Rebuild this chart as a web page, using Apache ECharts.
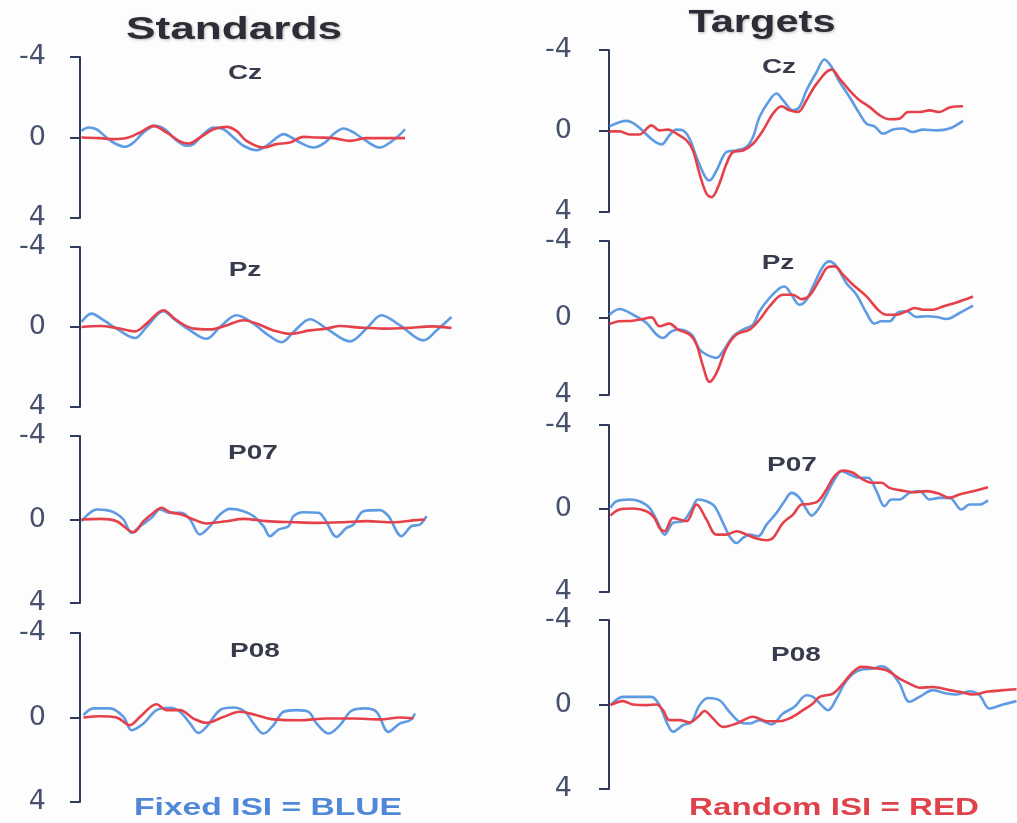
<!DOCTYPE html>
<html>
<head>
<meta charset="utf-8">
<style>
  html, body { margin: 0; padding: 0; background: #fdfdfd; }
  #chart { width: 1017px; height: 823px; }
</style>
<script src="https://cdn.jsdelivr.net/npm/echarts@6/dist/echarts.min.js"></script>
</head>
<body>
<div id="chart"></div>
<script>
// ERP grand averages, amplitude in µV (negative plotted upward), time in ms.
const yTicks = [-4, 0, 4];
const columns = ['Standards', 'Targets'];
const channels = ['Cz', 'Pz', 'P07', 'P08'];
const legendFixed = 'Fixed ISI = BLUE';
const legendRandom = 'Random ISI = RED';

// Standards, Fixed ISI
const czStdFixed = [[3,-0.33],[17,-0.5],[33,-0.41],[53,0],[70,0.3],[90,0.46],[107,0.25],[127,-0.25],[150,-0.58],[170,-0.41],[190,0.08],[213,0.41],[227,0.33],[247,-0.17],[267,-0.5],[287,-0.41],[307,0],[327,0.41],[353,0.63],[373,0.41],[390,0.08],[407,-0.17],[423,0],[440,0.25],[467,0.5],[490,0.25],[507,-0.17],[527,-0.45],[547,-0.25],[567,0.08],[600,0.5],[620,0.25],[637,-0.08],[650,-0.41]];
const pzStdFixed = [[3,-0.25],[23,-0.67],[47,-0.34],[73,0.08],[110,0.55],[133,0],[167,-0.79],[187,-0.42],[220,0.17],[253,0.59],[280,0],[313,-0.59],[347,-0.17],[373,0.34],[403,0.76],[430,0.17],[460,-0.39],[493,0.08],[540,0.72],[573,0.08],[603,-0.59],[640,-0.08],[687,0.67],[713,0.17],[743,-0.5]];
const p07StdFixed = [[3,0.08],[20,-0.32],[33,-0.48],[53,-0.45],[70,-0.32],[87,0],[103,0.64],[120,0.32],[143,-0.08],[160,-0.48],[180,-0.32],[203,-0.32],[220,0],[240,0.72],[257,0.4],[280,-0.24],[300,-0.51],[327,-0.4],[347,-0.16],[367,0.32],[380,0.8],[397,0.48],[417,0.32],[427,-0.16],[447,-0.35],[477,-0.32],[490,0],[513,0.83],[533,0.4],[547,0.24],[567,-0.4],[600,-0.45],[617,-0.16],[643,0.8],[663,0.32],[680,0.24],[693,-0.16]];
const p08StdFixed = [[7,-0.11],[27,-0.43],[60,-0.43],[87,-0.03],[103,0.6],[127,0.28],[153,-0.35],[180,-0.46],[200,-0.27],[220,0.28],[237,0.73],[253,0.44],[280,-0.35],[307,-0.47],[330,-0.27],[347,0.28],[367,0.76],[387,0.36],[407,-0.27],[433,-0.35],[457,-0.27],[473,0.28],[497,0.76],[520,0.36],[543,-0.32],[570,-0.43],[593,-0.27],[617,0.68],[640,0.28],[660,0.13],[670,-0.19]];

// Standards, Random ISI
const czStdRandom = [[3,0],[40,0.03],[67,0.08],[93,0.03],[120,-0.25],[147,-0.58],[173,-0.25],[200,0.2],[217,0.3],[240,0],[267,-0.41],[293,-0.53],[313,-0.33],[333,0.17],[367,0.5],[393,0.33],[420,0.25],[447,-0.03],[473,0],[507,0.03],[540,0.17],[573,0.03],[607,0.03],[650,0.03]];
const pzStdRandom = [[3,0],[40,-0.05],[73,0.05],[110,0.22],[133,-0.17],[167,-0.84],[193,-0.34],[227,0.08],[260,0.12],[293,-0.08],[327,-0.34],[353,-0.17],[387,0.17],[420,0.34],[460,0.17],[493,0.08],[520,-0.05],[560,0.03],[607,0.08],[653,0.05],[707,-0.03],[743,0.05]];
const p07StdRandom = [[3,0],[40,-0.03],[73,0.08],[107,0.61],[127,0.08],[147,-0.32],[163,-0.56],[180,-0.35],[203,-0.24],[227,0],[253,0.19],[293,0.08],[327,-0.03],[373,0.08],[427,0.13],[473,0.16],[527,0.13],[573,0.08],[627,0.13],[673,0.03],[690,0]];
const p08StdRandom = [[7,0],[40,-0.06],[73,0],[100,0.36],[120,-0.03],[153,-0.63],[173,-0.35],[200,-0.35],[227,0.05],[253,0.25],[287,-0.03],[320,-0.27],[353,-0.11],[387,0.09],[440,0.13],[493,0.05],[547,0.05],[600,0.09],[640,0],[667,0.05]];

// Targets, Fixed ISI
const czTgtFixed = [[1,-0.23],[35,-0.5],[55,-0.28],[88,0.46],[105,0.66],[121,0.21],[135,-0.07],[148,-0.03],[161,0.38],[175,1.29],[191,2.2],[201,2.44],[215,1.95],[235,1.04],[255,0.96],[275,0.79],[288,0.3],[301,-0.69],[321,-1.52],[335,-1.85],[348,-1.52],[368,-1.02],[381,-1.19],[395,-2.01],[415,-2.9],[431,-3.53],[445,-3.17],[461,-2.43],[481,-1.68],[501,-0.86],[515,-0.36],[531,-0.23],[548,0.13],[568,-0.07],[588,-0.12],[608,0.05],[628,-0.07],[655,-0.03],[681,-0.12],[708,-0.5]];
const pzTgtFixed = [[1,-0.17],[21,-0.47],[48,-0.17],[75,0.26],[95,0.86],[108,1.04],[125,0.69],[141,0.6],[155,0.69],[168,0.95],[181,1.64],[195,1.9],[215,2.07],[228,1.73],[248,0.95],[268,0.6],[288,0.35],[301,-0.35],[321,-1.04],[341,-1.55],[351,-1.64],[365,-1.21],[381,-0.69],[395,-0.95],[408,-1.64],[428,-2.68],[441,-2.94],[455,-2.68],[475,-1.81],[495,-1.21],[515,-0.26],[531,0.29],[545,0.17],[561,0.17],[578,-0.29],[595,-0.35],[615,-0.05],[635,-0.09],[655,-0.05],[675,0.05],[701,-0.26],[728,-0.64]];
const p07TgtFixed = [[3,-0.03],[15,-0.35],[41,-0.43],[61,-0.35],[81,-0.03],[98,0.69],[111,1.25],[128,0.69],[148,0.61],[165,0.05],[178,-0.43],[195,-0.35],[211,-0.11],[228,0.69],[241,1.33],[255,1.65],[268,1.41],[281,1.25],[298,1.33],[315,0.77],[335,0.21],[351,-0.35],[365,-0.75],[381,-0.51],[395,0.05],[405,0.34],[418,0.05],[435,-0.67],[451,-1.39],[465,-1.79],[481,-1.63],[501,-1.47],[518,-1.47],[535,-0.83],[551,-0.11],[565,-0.43],[581,-0.43],[601,-0.75],[621,-0.83],[641,-0.43],[661,-0.51],[681,-0.51],[705,0.05],[721,-0.19],[741,-0.19],[758,-0.4]];
const p08TgtFixed = [[3,0.03],[28,-0.36],[61,-0.36],[85,-0.36],[101,0.03],[115,0.82],[128,1.29],[148,0.98],[165,0.82],[181,0.03],[198,-0.31],[221,-0.2],[241,0.35],[261,0.82],[281,0.9],[301,0.74],[325,0.94],[348,0.43],[371,0.11],[395,-0.44],[408,-0.36],[425,0.03],[438,0.27],[455,-0.28],[471,-0.99],[488,-1.46],[508,-1.67],[528,-1.7],[545,-1.81],[561,-1.62],[581,-0.99],[601,-0.13],[621,-0.36],[648,-0.68],[675,-0.52],[695,-0.47],[721,-0.63],[741,-0.44],[761,0.19],[788,0],[815,-0.16]];

// Targets, Random ISI
const czTgtRandom = [[1,0.02],[21,0.02],[41,0.17],[61,0.17],[85,-0.28],[101,-0.03],[118,-0.07],[135,0.13],[155,0.46],[168,0.96],[181,2.11],[195,3.1],[205,3.27],[218,2.77],[235,1.62],[248,1.04],[268,0.96],[288,0.63],[308,-0.03],[328,-0.86],[345,-1.22],[361,-1.02],[378,-0.94],[395,-1.52],[415,-2.33],[445,-3.04],[461,-2.59],[481,-2.01],[501,-1.52],[521,-1.19],[541,-0.78],[561,-0.58],[581,-0.61],[598,-0.94],[621,-0.94],[641,-1.02],[661,-0.94],[681,-1.16],[708,-1.22]];
const pzTgtRandom = [[1,0.31],[21,0.17],[48,0.14],[68,0.05],[85,-0.03],[101,0.43],[121,0.29],[138,0.6],[161,0.86],[175,1.38],[188,2.5],[201,3.32],[215,2.85],[235,1.55],[255,0.86],[281,0.6],[301,0.09],[321,-0.6],[348,-1.21],[368,-1.21],[385,-0.98],[401,-1.16],[421,-1.99],[438,-2.64],[451,-2.68],[468,-2.25],[488,-1.73],[515,-1.12],[538,-0.43],[555,-0.17],[575,-0.17],[595,-0.35],[611,-0.52],[628,-0.43],[648,-0.43],[668,-0.6],[695,-0.81],[728,-1.12]];
const p07TgtRandom = [[3,0.34],[21,0.05],[48,0],[75,0.13],[91,0.45],[101,0.93],[111,1.09],[128,0.45],[141,0.53],[155,0.61],[175,-0.19],[195,0.53],[215,1.25],[235,1.25],[255,1.09],[275,1.25],[295,1.44],[315,1.52],[328,1.41],[348,0.69],[368,0.29],[385,-0.19],[401,-0.22],[418,-0.35],[435,-0.91],[451,-1.55],[468,-1.82],[488,-1.71],[508,-1.39],[528,-1.23],[545,-1.23],[561,-0.99],[581,-0.88],[608,-0.78],[635,-0.83],[661,-0.7],[681,-0.51],[701,-0.67],[728,-0.83],[758,-1.02]];
const p08TgtRandom = [[3,0.03],[28,-0.16],[48,0],[75,0.03],[95,0],[108,0.27],[121,0.74],[141,0.74],[161,0.85],[178,0.58],[191,0.31],[208,0.66],[228,1.06],[255,0.9],[288,0.58],[315,0.79],[341,0.79],[361,0.66],[388,0.27],[408,-0.05],[421,-0.36],[448,-0.52],[468,-0.99],[488,-1.54],[505,-1.78],[528,-1.73],[555,-1.62],[581,-1.23],[601,-0.99],[621,-0.79],[648,-0.83],[681,-0.68],[701,-0.6],[728,-0.47],[755,-0.6],[788,-0.68],[815,-0.72]];

const panels = [
  { col: 0, ch: 0, fixed: czStdFixed,  random: czStdRandom,  top: 57,  bottom: 218 },
  { col: 0, ch: 1, fixed: pzStdFixed,  random: pzStdRandom,  top: 247, bottom: 407 },
  { col: 0, ch: 2, fixed: p07StdFixed, random: p07StdRandom, top: 436, bottom: 603 },
  { col: 0, ch: 3, fixed: p08StdFixed, random: p08StdRandom, top: 633, bottom: 802 },
  { col: 1, ch: 0, fixed: czTgtFixed,  random: czTgtRandom,  top: 50,  bottom: 212 },
  { col: 1, ch: 1, fixed: pzTgtFixed,  random: pzTgtRandom,  top: 241, bottom: 395 },
  { col: 1, ch: 2, fixed: p07TgtFixed, random: p07TgtRandom, top: 425, bottom: 592 },
  { col: 1, ch: 3, fixed: p08TgtFixed, random: p08TgtRandom, top: 620, bottom: 789 }
];

const colLayout = [
  { left: 80,  width: 400, tMax: 800, labelMargin: 34 },
  { left: 609, width: 408, tMax: 816, labelMargin: 37 }
];
const chLabelPos = [
  [[245, 73], [245, 270], [253, 453], [255, 651]],
  [[779, 67], [778, 263], [792, 465], [796, 655]]
];

const axisColor = '#2f3a5c';
const blue = '#5f9be2';
const red = '#e5414b';

const grid = [], xAxis = [], yAxis = [], series = [];
panels.forEach((p, i) => {
  const c = colLayout[p.col];
  grid.push({ left: c.left, width: c.width, top: p.top, height: p.bottom - p.top });
  xAxis.push({ gridIndex: i, type: 'value', min: 0, max: c.tMax, show: false });
  yAxis.push({
    gridIndex: i, type: 'value', min: yTicks[0], max: yTicks[yTicks.length - 1],
    interval: yTicks[1] - yTicks[0], inverse: true,
    axisLine: { show: true, lineStyle: { color: axisColor, width: 2 } },
    axisTick: { show: true, length: 10, lineStyle: { color: axisColor, width: 2 } },
    splitLine: { show: false },
    axisLabel: {
      margin: c.labelMargin, fontSize: 27, color: '#47516d',
      fontFamily: 'DejaVu Sans, sans-serif'
    }
  });
  const lineOpts = { type: 'line', xAxisIndex: i, yAxisIndex: i, showSymbol: false, smooth: 0.35, silent: true };
  series.push(Object.assign({}, lineOpts, { name: legendFixed, data: p.fixed, lineStyle: { color: blue, width: 2.6 }, z: 2 }));
  series.push(Object.assign({}, lineOpts, { name: legendRandom, data: p.random, lineStyle: { color: red, width: 2.6 }, z: 3 }));
});

function label(text, x, y, size, color, sx, shadow) {
  return {
    type: 'text', x: x, y: y, scaleX: sx, silent: true,
    style: {
      text: text, x: 0, y: 0, align: 'center', verticalAlign: 'middle',
      fontSize: size, fontWeight: 'bold', fill: color,
      fontFamily: 'Liberation Sans, Arial, sans-serif',
      textShadowColor: shadow ? 'rgba(60,60,70,0.35)' : 'transparent',
      textShadowBlur: shadow ? 3 : 0, textShadowOffsetX: shadow ? 1 : 0, textShadowOffsetY: shadow ? 1 : 0
    }
  };
}

const graphic = [
  label(columns[0], 234, 30, 32, '#2c2d36', 1.38, true),
  label(columns[1], 762, 23, 32, '#2c2d36', 1.3, true),
  label(legendFixed, 268, 808, 24, '#4f88d8', 1.4, false),
  label(legendRandom, 834, 808, 24, '#e0424c', 1.38, false)
];
panels.forEach(p => {
  const pos = chLabelPos[p.col][p.ch];
  graphic.push(label(channels[p.ch], pos[0], pos[1], 20, '#373b4c', 1.4, false));
});

const chart = echarts.init(document.getElementById('chart'), null, { renderer: 'canvas' });
chart.setOption({
  backgroundColor: '#fdfdfd',
  animation: false,
  grid, xAxis, yAxis, series, graphic
});
</script>
</body>
</html>
